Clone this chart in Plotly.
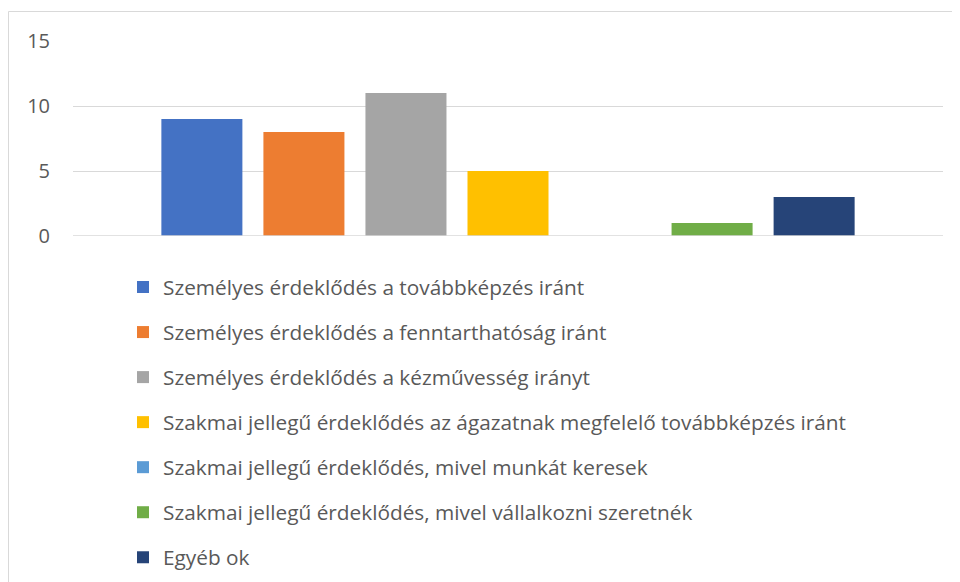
import plotly.graph_objects as go

series_names = [
    "Személyes érdeklődés a továbbképzés iránt",
    "Személyes érdeklődés a fenntarthatóság iránt",
    "Személyes érdeklődés a kézművesség irányt",
    "Szakmai jellegű érdeklődés az ágazatnak megfelelő továbbképzés iránt",
    "Szakmai jellegű érdeklődés, mivel munkát keresek",
    "Szakmai jellegű érdeklődés, mivel vállalkozni szeretnék",
    "Egyéb ok",
]
series_values = [9, 8, 11, 5, 0, 1, 3]
series_colors = ["#4472C4", "#ED7D31", "#A5A5A5", "#FFC000", "#5B9BD5", "#70AD47", "#264478"]
category = [""]
y_ticks = [0, 5, 10, 15]

# page has an 8px body margin; figure coordinates are page - 8
OFF = 8
W, H = 952, 610
L, T = 73 - OFF, 41 - OFF
R = W - (943 - OFF)
B = H - (236 - OFF)

fig = go.Figure()
for i, (name, val, col) in enumerate(zip(series_names, series_values, series_colors)):
    fig.add_trace(go.Bar(
        x=category, y=[val], name=name, marker=dict(color=col, line=dict(width=0)),
        legendgroup=f"g{i}",
    ))

pw = W - L - R
ph = H - T - B
def px_x(p):
    return (p - OFF - L) / pw
def px_y(p):
    return (H - B - (p - OFF)) / ph

fig.update_layout(
    width=W, height=H,
    margin=dict(l=L, r=R, t=T, b=B, pad=0),
    paper_bgcolor="white", plot_bgcolor="white",
    barmode="group", bargap=0.179, bargroupgap=0.206,
    font=dict(family="Open Sans, sans-serif", color="#595959"),
    showlegend=True,
    legend=dict(
        orientation="v", x=px_x(123), y=px_y(267), xanchor="left", yanchor="top",
        font=dict(size=20.8, color="#595959"),
        traceorder="grouped", tracegroupgap=15, maxheight=1000,
        bgcolor="rgba(0,0,0,0)",
    ),
    xaxis=dict(showticklabels=False, showgrid=False, zeroline=False, showline=False, ticks=""),
    yaxis=dict(
        range=[0, 15], tickvals=y_ticks, showgrid=True, gridcolor="#D9D9D9", gridwidth=1,
        zeroline=False, showline=False, ticks="", tickfont=dict(size=20, color="#595959"),
        ticklabelstandoff=22,
    ),
    shapes=[
        dict(type="rect", xref="paper", yref="paper",
             x0=px_x(8.5), x1=px_x(990), y0=px_y(640), y1=px_y(11.5),
             line=dict(color="#D9D9D9", width=1), fillcolor="rgba(0,0,0,0)", layer="below"),
        dict(type="line", xref="paper", yref="y", x0=0, x1=1, y0=0, y1=0,
             line=dict(color="#D9D9D9", width=1.5), layer="above"),
    ],
)

fig.write_html("out.html")
